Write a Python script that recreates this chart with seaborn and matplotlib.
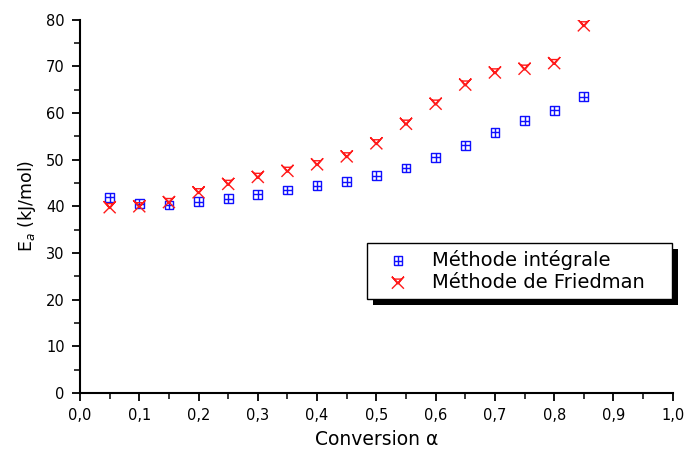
import numpy as np
import pandas as pd
import seaborn as sns
import matplotlib
matplotlib.use("Agg")
import matplotlib.pyplot as plt
from matplotlib.path import Path
from matplotlib.patches import Rectangle
from matplotlib.transforms import IdentityTransform
from matplotlib.ticker import MultipleLocator

conversion = [0.05, 0.10, 0.15, 0.20, 0.25, 0.30, 0.35, 0.40, 0.45,
              0.50, 0.55, 0.60, 0.65, 0.70, 0.75, 0.80, 0.85]
ea_integral = [41.9, 40.6, 40.3, 41.0, 41.6, 42.6, 43.5, 44.4, 45.3,
               46.6, 48.2, 50.5, 53.1, 55.9, 58.4, 60.6, 63.5]
ea_friedman = [39.8, 40.0, 40.9, 43.0, 44.8, 46.3, 47.6, 49.0, 50.7,
               53.5, 57.7, 62.0, 66.1, 68.7, 69.5, 70.7, 78.8]
series_names = ["Méthode intégrale", "Méthode de Friedman"]
x_ticks = [0.0, 0.1, 0.2, 0.3, 0.4, 0.5, 0.6, 0.7, 0.8, 0.9, 1.0]
x_tick_labels = ["0,0", "0,1", "0,2", "0,3", "0,4", "0,5",
                 "0,6", "0,7", "0,8", "0,9", "1,0"]
y_ticks = [0, 10, 20, 30, 40, 50, 60, 70, 80]
y_tick_labels = ["0", "10", "20", "30", "40", "50", "60", "70", "80"]

sns.set_theme(style="ticks")
plt.rcParams['font.family'] = ['DejaVu Sans']
plt.rcParams['text.color'] = 'black'
plt.rcParams['axes.labelcolor'] = 'black'

df = pd.DataFrame({
    "conversion": conversion * 2,
    "Ea": ea_integral + ea_friedman,
    "method": [series_names[0]] * len(conversion) + [series_names[1]] * len(conversion),
})

# custom markers
M, L = Path.MOVETO, Path.LINETO
sq_plus = Path(
    [(-1, -1), (1, -1), (1, 1), (-1, 1), (-1, -1),
     (0, -1), (0, 1), (-1, 0), (1, 0)],
    [M, L, L, L, L, M, L, M, L])
x_v = Path(
    [(-1, -1), (1, 1), (-1, 1), (1, -1),
     (-1, 1), (0, -0.2), (1, 1), (-0.6, 0.6), (0.6, 0.6)],
    [M, L, M, L, M, L, L, M, L])

fig = plt.figure(figsize=(6.84, 4.5), dpi=100)
ax = fig.add_axes([0.117, 0.127, 0.8665, 0.829])

sns.scatterplot(data=df[df.method == series_names[0]], x="conversion", y="Ea",
                marker=sq_plus, s=40, facecolors="none", edgecolor="#1010ff",
                linewidth=1.0, ax=ax, label=series_names[0])
sns.scatterplot(data=df[df.method == series_names[1]], x="conversion", y="Ea",
                marker=x_v, s=75, facecolors="none", edgecolor="#ff1a1a",
                linewidth=1.0, ax=ax, label=series_names[1])

ax.set_xlim(0, 1.0)
ax.set_ylim(0, 80)
ax.set_xticks(x_ticks)
ax.set_xticklabels(x_tick_labels)
ax.set_yticks(y_ticks)
ax.set_yticklabels(y_tick_labels)
ax.xaxis.set_minor_locator(MultipleLocator(0.05))
ax.yaxis.set_minor_locator(MultipleLocator(5))
ax.tick_params(which="major", direction="out", length=6, width=1.3,
               labelsize=10.5, colors="black", pad=5)
ax.tick_params(which="minor", direction="out", length=4, width=1.3)
for side in ["top", "right"]:
    ax.spines[side].set_visible(False)
for side in ["left", "bottom"]:
    ax.spines[side].set_linewidth(1.5)
    ax.spines[side].set_color("black")

ax.set_xlabel("Conversion α", fontsize=13.5, labelpad=5)
ax.set_ylabel("E$_a$ (kJ/mol)", fontsize=12.5, labelpad=6)

leg = ax.legend(loc="upper left", bbox_to_anchor=(0.484, 0.0, 0.515, 0.402),
                mode="expand", borderaxespad=0, frameon=True,
                fancybox=False, shadow=False,
                fontsize=14, handletextpad=0.5, borderpad=0.36,
                labelspacing=0.15, handlelength=2.47, markerscale=1.0)
leg.get_frame().set_edgecolor("black")
leg.get_frame().set_linewidth(1.0)
leg.get_frame().set_alpha(1)
leg.set_zorder(6)

fig.canvas.draw()
bb = leg.get_window_extent()
ax.add_patch(Rectangle((bb.x0 + 6, bb.y0 - 6), bb.width, bb.height,
                       transform=IdentityTransform(), facecolor="black",
                       edgecolor="none", clip_on=False, zorder=5.5))

fig.savefig("out.png", dpi=100)
